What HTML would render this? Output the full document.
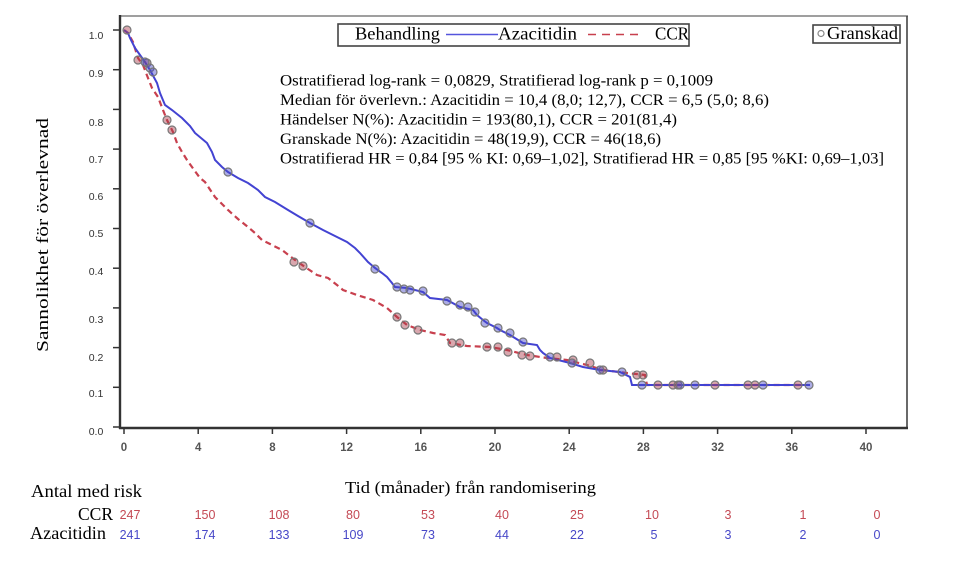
<!DOCTYPE html>
<html><head><meta charset="utf-8">
<style>
html,body{margin:0;padding:0;background:#fff;}
svg{display:block;}
.ser{font-family:"Liberation Serif","DejaVu Serif",serif;fill:#000;}
.ytl{font-family:"Liberation Sans",Arial,sans-serif;font-size:10.5px;fill:#333;}
.xtl{font-family:"Liberation Sans",Arial,sans-serif;font-size:11.5px;font-weight:bold;fill:#555;}
.rn{font-family:"Liberation Sans",Arial,sans-serif;font-size:12.5px;}
</style></head>
<body>
<svg width="955" height="569" viewBox="0 0 955 569" xmlns="http://www.w3.org/2000/svg">
<rect width="955" height="569" fill="#fff"/>
<!-- frame -->
<line x1="120" y1="16" x2="908" y2="16" stroke="#666" stroke-width="1.2"/>
<line x1="907" y1="16" x2="907" y2="429" stroke="#444" stroke-width="1.6"/>
<line x1="120" y1="15" x2="120" y2="429" stroke="#333" stroke-width="2.4"/>
<line x1="119" y1="428" x2="908" y2="428" stroke="#333" stroke-width="2.4"/>
<!-- y ticks -->
<g stroke="#333" stroke-width="1.5">
<line x1="113" y1="30" x2="120" y2="30"/>
<line x1="113" y1="69.7" x2="120" y2="69.7"/>
<line x1="113" y1="109.4" x2="120" y2="109.4"/>
<line x1="113" y1="149.1" x2="120" y2="149.1"/>
<line x1="113" y1="188.8" x2="120" y2="188.8"/>
<line x1="113" y1="228.5" x2="120" y2="228.5"/>
<line x1="113" y1="268.2" x2="120" y2="268.2"/>
<line x1="113" y1="307.9" x2="120" y2="307.9"/>
<line x1="113" y1="347.6" x2="120" y2="347.6"/>
<line x1="113" y1="387.3" x2="120" y2="387.3"/>
<line x1="113" y1="427" x2="120" y2="427"/>
</g>
<g class="ytl" text-anchor="middle">
<text x="96" y="39">1.0</text>
<text x="96" y="77">0.9</text>
<text x="96" y="126">0.8</text>
<text x="96" y="163">0.7</text>
<text x="96" y="200">0.6</text>
<text x="96" y="237">0.5</text>
<text x="96" y="275">0.4</text>
<text x="96" y="323">0.3</text>
<text x="96" y="361">0.2</text>
<text x="96" y="397">0.1</text>
<text x="96" y="435">0.0</text>
</g>
<!-- x ticks -->
<g stroke="#333" stroke-width="1.5">
<line x1="124" y1="428" x2="124" y2="434"/>
<line x1="198.2" y1="428" x2="198.2" y2="434"/>
<line x1="272.4" y1="428" x2="272.4" y2="434"/>
<line x1="346.6" y1="428" x2="346.6" y2="434"/>
<line x1="420.8" y1="428" x2="420.8" y2="434"/>
<line x1="495" y1="428" x2="495" y2="434"/>
<line x1="569.2" y1="428" x2="569.2" y2="434"/>
<line x1="643.4" y1="428" x2="643.4" y2="434"/>
<line x1="717.6" y1="428" x2="717.6" y2="434"/>
<line x1="791.8" y1="428" x2="791.8" y2="434"/>
<line x1="866" y1="428" x2="866" y2="434"/>
</g>
<g class="xtl" text-anchor="middle">
<text x="124" y="451">0</text>
<text x="198.2" y="451">4</text>
<text x="272.4" y="451">8</text>
<text x="346.6" y="451">12</text>
<text x="420.8" y="451">16</text>
<text x="495" y="451">20</text>
<text x="569.2" y="451">24</text>
<text x="643.4" y="451">28</text>
<text x="717.6" y="451">32</text>
<text x="791.8" y="451">36</text>
<text x="866" y="451">40</text>
</g>
<!-- curves -->
<polyline fill="none" stroke="#c8404e" stroke-width="2.2" stroke-dasharray="6,4" points="124,30 128,33 133,42 138,58 143,65 148,78 152,88 158,97 163,110 167,120 173,132 177,143 182,152 187,160 192,167 200,178 205,182 215,197 222,204 228,210 238,219 248,227 255,233 262,240 272,245 282,250 295,260 305,267 317,275 328,278 337,285 343,290 357,295 373,300 387,308 397,317 407,325 420,330 433,333 445,335 450,343 467,346 490,347 507,350 527,355 547,358 567,360 587,365 603,370 627,373 645,375 647,385 800,385"/>
<polyline fill="none" stroke="#4343d2" stroke-width="2" points="124,30 128,33 130,38 135,48 140,55 145,62 150,70 157,83 160,93 165,105 172,110 182,118 190,126 195,133 207,143 212,152 215,160 222,167 228,172 238,178 248,183 258,190 265,197 275,202 288,210 298,216 310,223 323,230 335,236 347,242 355,248 360,253 368,262 375,268 382,273 387,277 392,283 395,287 407,288 423,292 430,298 447,300 460,307 473,310 477,315 483,320 487,323 497,328 500,330 510,335 523,343 537,345 540,350 543,353 550,358 570,363 583,367 600,370 620,372 630,377 632,385 810,385"/>
<!-- censor marks -->
<g stroke="#777" stroke-width="1.2" fill="rgba(170,60,75,0.45)">
<circle cx="127" cy="30" r="4"/>
<circle cx="138" cy="60" r="4"/><circle cx="147" cy="63" r="4"/>
<circle cx="167" cy="120" r="4"/><circle cx="172" cy="130" r="4"/>
<circle cx="294" cy="262" r="4"/><circle cx="303" cy="266" r="4"/>
<circle cx="397" cy="317" r="4"/><circle cx="405" cy="325" r="4"/><circle cx="418" cy="330" r="4"/>
<circle cx="452" cy="343" r="4"/><circle cx="460" cy="343" r="4"/>
<circle cx="487" cy="347" r="4"/><circle cx="498" cy="347" r="4"/><circle cx="508" cy="352" r="4"/>
<circle cx="522" cy="355" r="4"/><circle cx="530" cy="356" r="4"/>
<circle cx="557" cy="357" r="4"/><circle cx="573" cy="360" r="4"/><circle cx="590" cy="363" r="4"/>
<circle cx="603" cy="370" r="4"/><circle cx="637" cy="375" r="4"/><circle cx="643" cy="375" r="4"/>
<circle cx="658" cy="385" r="4"/><circle cx="673" cy="385" r="4"/><circle cx="678" cy="385" r="4"/>
<circle cx="715" cy="385" r="4"/><circle cx="748" cy="385" r="4"/><circle cx="755" cy="385" r="4"/>
<circle cx="798" cy="385" r="4"/>
</g>
<g stroke="#777" stroke-width="1.2" fill="rgba(70,70,200,0.45)">
<circle cx="145" cy="62" r="4"/><circle cx="150" cy="68" r="4"/><circle cx="153" cy="72" r="4"/>
<circle cx="228" cy="172" r="4"/><circle cx="310" cy="223" r="4"/><circle cx="375" cy="269" r="4"/>
<circle cx="397" cy="287" r="4"/><circle cx="404" cy="289" r="4"/><circle cx="410" cy="290" r="4"/><circle cx="423" cy="291" r="4"/>
<circle cx="447" cy="301" r="4"/><circle cx="460" cy="305" r="4"/><circle cx="468" cy="307" r="4"/><circle cx="475" cy="312" r="4"/>
<circle cx="485" cy="323" r="4"/><circle cx="498" cy="328" r="4"/><circle cx="510" cy="333" r="4"/><circle cx="523" cy="342" r="4"/>
<circle cx="550" cy="357" r="4"/><circle cx="572" cy="363" r="4"/><circle cx="600" cy="370" r="4"/><circle cx="622" cy="372" r="4"/>
<circle cx="642" cy="385" r="4"/><circle cx="680" cy="385" r="4"/><circle cx="695" cy="385" r="4"/><circle cx="763" cy="385" r="4"/><circle cx="809" cy="385" r="4"/>
</g>
<!-- legend -->
<rect x="338" y="24" width="351" height="22" fill="#fff" stroke="#444" stroke-width="1.6"/>
<text class="ser" x="355" y="39.5" font-size="17.5" textLength="85" lengthAdjust="spacingAndGlyphs">Behandling</text>
<line x1="446" y1="34.5" x2="498" y2="34.5" stroke="#5555dd" stroke-width="1.6"/>
<text class="ser" x="498" y="39.5" font-size="17.5" textLength="79" lengthAdjust="spacingAndGlyphs">Azacitidin</text>
<line x1="588" y1="34.5" x2="642" y2="34.5" stroke="#c8404e" stroke-width="1.6" stroke-dasharray="8,6"/>
<text class="ser" x="655" y="39.5" font-size="17.5" textLength="34" lengthAdjust="spacingAndGlyphs">CCR</text>
<rect x="813" y="25" width="87" height="18" fill="#fff" stroke="#444" stroke-width="1.6"/>
<circle cx="821" cy="33.5" r="3" fill="none" stroke="#888" stroke-width="1.2"/>
<text class="ser" x="827" y="39" font-size="17.5" textLength="71" lengthAdjust="spacingAndGlyphs">Granskad</text>
<!-- stats -->
<g class="ser" font-size="15.5">
<text x="280" y="85.5" textLength="433" lengthAdjust="spacingAndGlyphs">Ostratifierad log-rank = 0,0829, Stratifierad log-rank p = 0,1009</text>
<text x="280" y="105" textLength="489" lengthAdjust="spacingAndGlyphs">Median för överlevn.: Azacitidin = 10,4 (8,0; 12,7), CCR = 6,5 (5,0; 8,6)</text>
<text x="280" y="124.5" textLength="397" lengthAdjust="spacingAndGlyphs">Händelser N(%): Azacitidin = 193(80,1), CCR = 201(81,4)</text>
<text x="280" y="144" textLength="381" lengthAdjust="spacingAndGlyphs">Granskade N(%): Azacitidin = 48(19,9), CCR = 46(18,6)</text>
<text x="280" y="163.5" textLength="604" lengthAdjust="spacingAndGlyphs">Ostratifierad HR = 0,84 [95 % KI: 0,69–1,02], Stratifierad HR = 0,85 [95 %KI: 0,69–1,03]</text>
</g>
<!-- axis titles -->
<text class="ser" font-size="17" transform="translate(48,352) rotate(-90)" textLength="234" lengthAdjust="spacingAndGlyphs">Sannolikhet för överlevnad</text>
<text class="ser" x="345" y="493" font-size="17" textLength="251" lengthAdjust="spacingAndGlyphs">Tid (månader) från randomisering</text>
<!-- risk table -->
<text class="ser" x="31" y="497" font-size="17.5" textLength="111" lengthAdjust="spacingAndGlyphs">Antal med risk</text>
<text class="ser" x="113" y="520" font-size="17.5" text-anchor="end">CCR</text>
<text class="ser" x="30" y="539" font-size="17.5" textLength="76" lengthAdjust="spacingAndGlyphs">Azacitidin</text>
<g class="rn" fill="#c44a55" text-anchor="middle">
<text x="130" y="519">247</text><text x="205" y="519">150</text><text x="279" y="519">108</text>
<text x="353" y="519">80</text><text x="428" y="519">53</text><text x="502" y="519">40</text>
<text x="577" y="519">25</text><text x="652" y="519">10</text><text x="728" y="519">3</text>
<text x="803" y="519">1</text><text x="877" y="519">0</text>
</g>
<g class="rn" fill="#4848c8" text-anchor="middle">
<text x="130" y="539">241</text><text x="205" y="539">174</text><text x="279" y="539">133</text>
<text x="353" y="539">109</text><text x="428" y="539">73</text><text x="502" y="539">44</text>
<text x="577" y="539">22</text><text x="654" y="539">5</text><text x="728" y="539">3</text>
<text x="803" y="539">2</text><text x="877" y="539">0</text>
</g>
</svg>
</body></html>
